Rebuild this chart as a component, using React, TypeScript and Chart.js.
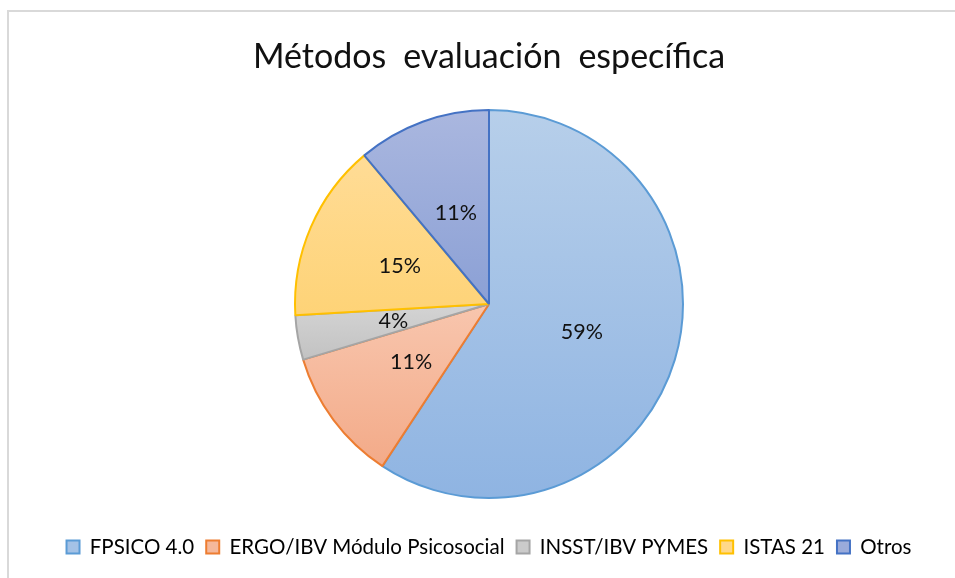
import React, { useEffect, useRef } from "react";
import { Chart, registerables } from "chart.js";

Chart.register(...registerables);

const TITLE = "Métodos\u2002evaluación\u2002específica";
const categories = ["FPSICO 4.0", "ERGO/IBV Módulo Psicosocial", "INSST/IBV PYMES", "ISTAS 21", "Otros"];
const values = [16, 3, 1, 4, 3];
const percentLabels = ["59%", "11%", "4%", "15%", "11%"];
const lightColors = ["#b7cfea", "#f8c6ae", "#d4d4d4", "#ffdc96", "#aab7df"];
const darkColors = ["#8fb4e2", "#f3aa88", "#c2c2c2", "#fed377", "#8ba0d5"];
const borderColors = ["#5b9bd5", "#ed7d31", "#a5a5a5", "#ffc000", "#4472c4"];
const legendFill = ["#a4c2e6", "#f5b89b", "#cbcbcb", "#ffd88a", "#9aabdb"];

const FONT = "Lato, 'Liberation Sans', sans-serif";
const RADIUS = 194;

function sliceBox(cx: number, cy: number, r: number, start: number, end: number) {
  const pts: number[] = [cy, cy + r * Math.sin(start), cy + r * Math.sin(end)];
  for (let k = -4; k <= 8; k++) {
    const a = (k * Math.PI) / 2;
    if (a > start && a < end) pts.push(cy + r * Math.sin(a));
  }
  return { top: Math.min(...pts), bottom: Math.max(...pts) };
}

const labelPlugin = {
  id: "pctLabels",
  afterDatasetsDraw(chart: any) {
    const meta = chart.getDatasetMeta(0);
    const ctx = chart.ctx;
    ctx.save();
    ctx.font = `21.5px ${FONT}`;
    ctx.fillStyle = "#111111";
    ctx.textAlign = "center";
    ctx.textBaseline = "middle";
    meta.data.forEach((arc: any, i: number) => {
      const p = arc.getProps(["startAngle", "endAngle", "outerRadius", "x", "y"], true);
      const mid = (p.startAngle + p.endAngle) / 2;
      const d = p.outerRadius * 0.5;
      ctx.fillText(percentLabels[i], p.x + Math.cos(mid) * d, p.y + Math.sin(mid) * d);
    });
    ctx.restore();
  },
};

export default function App() {
  const ref = useRef<HTMLCanvasElement | null>(null);
  useEffect(() => {
    if (!ref.current) return;
    const total = values.reduce((a, b) => a + b, 0);
    const chart = new Chart(ref.current, {
      type: "pie",
      data: {
        labels: categories,
        datasets: [
          {
            data: values,
            radius: RADIUS,
            borderWidth: 2,
            borderColor: borderColors,
            backgroundColor: (c: any) => {
              const i = c.dataIndex;
              const ch = c.chart;
              const area = ch.chartArea;
              if (!area || i === undefined) return lightColors[i ?? 0];
              const cx = (area.left + area.right) / 2;
              const cy = (area.top + area.bottom) / 2;
              let cum = 0;
              for (let k = 0; k < i; k++) cum += values[k];
              const start = -Math.PI / 2 + (cum / total) * Math.PI * 2;
              const end = start + (values[i] / total) * Math.PI * 2;
              const b = sliceBox(cx, cy, RADIUS, start, end);
              const g = ch.ctx.createLinearGradient(0, b.top, 0, b.bottom);
              g.addColorStop(0, lightColors[i]);
              g.addColorStop(1, darkColors[i]);
              return g;
            },
          } as any,
        ],
      },
      options: {
        animation: false,
        responsive: false,
        maintainAspectRatio: false,
        layout: { padding: { left: 23, right: 0, top: 0, bottom: 10.75 } },
        plugins: {
          title: {
            display: true,
            text: TITLE,
            color: "#111111",
            font: { family: FONT, size: 34, weight: "normal" },
            padding: { top: 36.6, bottom: 5.85 },
          },
          legend: {
            position: "bottom",
            labels: {
              font: { family: FONT, size: 20.5 },
              color: "#1a1a1a",
              boxWidth: 13,
              boxHeight: 13,
              padding: 12,
              generateLabels: () =>
                categories.map((t, i) => ({
                  text: t,
                  fillStyle: legendFill[i],
                  strokeStyle: borderColors[i],
                  lineWidth: 2,
                  hidden: false,
                  index: i,
                  datasetIndex: 0,
                })),
            },
          },
          tooltip: { enabled: false },
        },
      },
      plugins: [labelPlugin],
    });
    return () => chart.destroy();
  }, []);

  return (
    <div style={{ position: "fixed", left: 0, top: 0, width: 955, height: 578, background: "#fff" }}>
      <div
        style={{
          position: "absolute",
          left: 7,
          top: 10,
          width: 960,
          height: 580,
          borderTop: "2px solid #d9d9d9",
          borderLeft: "2px solid #d9d9d9",
        }}
      />
      <canvas ref={ref} width={955} height={578} style={{ position: "absolute", left: 0, top: 0 }} />
    </div>
  );
}
